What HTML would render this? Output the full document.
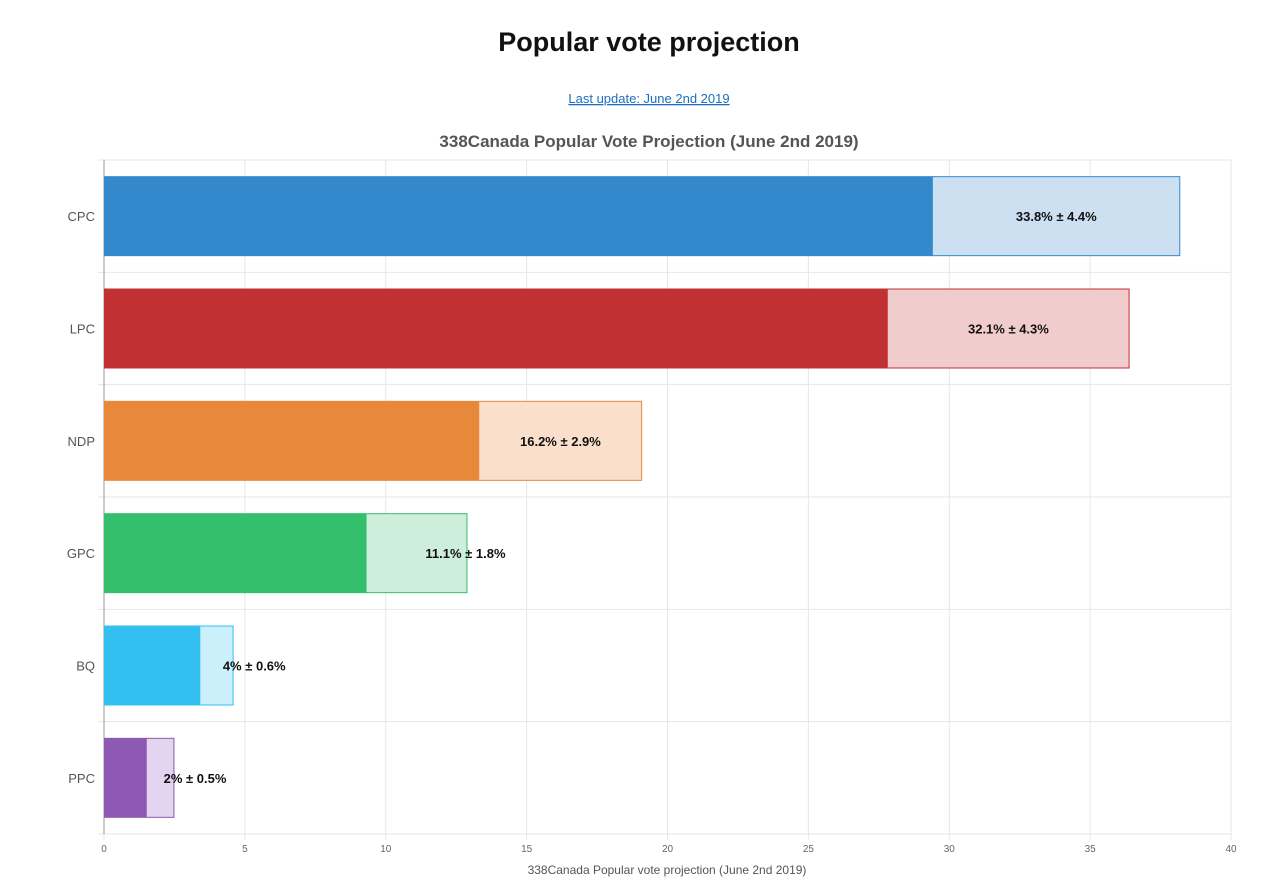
<!DOCTYPE html>
<html><head><meta charset="utf-8"><style>
body{margin:0;background:#fff;width:1265px;height:886px;overflow:hidden;font-family:"Liberation Sans",sans-serif}
</style></head><body>
<svg width="1265" height="886" xmlns="http://www.w3.org/2000/svg">
<text x="649" y="51" text-anchor="middle" font-size="27" font-weight="bold" fill="#111">Popular vote projection</text>
<text x="649" y="103" text-anchor="middle" font-size="13" fill="#1a6fc0" text-decoration="underline">Last update: June 2nd 2019</text>
<text x="649" y="147" text-anchor="middle" font-size="17" font-weight="bold" fill="#555">338Canada Popular Vote Projection (June 2nd 2019)</text>
<text x="667" y="874" text-anchor="middle" font-size="12" fill="#555">338Canada Popular vote projection (June 2nd 2019)</text>
<g id="plot"></g>
</svg>
<script>
const parties=["CPC","LPC","NDP","GPC","BQ","PPC"];
const values=[33.8,32.1,16.2,11.1,4,2];
const errors=[4.4,4.3,2.9,1.8,0.6,0.5];
const labels=["33.8% ± 4.4%","32.1% ± 4.3%","16.2% ± 2.9%","11.1% ± 1.8%","4% ± 0.6%","2% ± 0.5%"];
const ticks=[0,5,10,15,20,25,30,35,40];
const solidColors=["#3389cc","#c13032","#e8883a","#33bf6c","#33bff0","#8e59b4"];
const lightColors=["#cce0f2","#f0cccd","#fae0cc","#cdeedb","#cbeffb","#e3d5ef"];
const L=104,R=1231,T=160,B=834;
const xs=v=>L+(v-0)/(40-0)*(R-L);
const band=(B-T)/parties.length;
const g=document.getElementById('plot');
const NS="http://www.w3.org/2000/svg";
function mk(t,a){const e=document.createElementNS(NS,t);for(const k in a)e.setAttribute(k,a[k]);g.appendChild(e);return e;}
ticks.forEach(t=>{
 const l=mk('line',{x1:xs(t),x2:xs(t),y1:T,y2:B+6,stroke:'#e6e6e6'});
 
 
 const tx=mk('text',{x:xs(t),y:B+18,'text-anchor':'middle','font-size':10,fill:'#666'});
 tx.textContent=t;
 
 
});
for(let i=0;i<=parties.length;i++){
 const y=T+i*band;
 const l=mk('line',{x1:L-6,x2:R,y1:y,y2:y,stroke:'#e6e6e6'});
 
 
}
const ax=mk('line',{x1:L,x2:L,y1:T,y2:B,stroke:'#999'});


parties.forEach((p,i)=>{
 const yc=T+band*(i+0.5),h=80,y=yc-h/2;
 const lo=values[i]-errors[i],hi=values[i]+errors[i];
 const s=mk('rect',{x:xs(0),y:y,width:xs(lo)-xs(0),height:h,fill:solidColors[i]});
 
 
 const r=mk('rect',{x:xs(lo),y:y+0.5,width:xs(hi)-xs(lo)-0.5,height:h-1,fill:lightColors[i],stroke:solidColors[i],'stroke-width':1});
 
 
 const yl=mk('text',{x:L-9,y:yc+5,'text-anchor':'end','font-size':13,fill:'#555'});
 yl.textContent=p;
 
 
 const tw=labels[i].length*6.8;
 const segW=xs(hi)-xs(lo);
 let cx=(xs(lo)+xs(hi))/2;
 if(tw>segW) cx=xs(hi)-10+tw/2;
 else if(tw+40>segW) cx=xs(hi)-2;
 const vl=mk('text',{x:cx,y:yc+5,'text-anchor':'middle','font-size':13,'font-weight':'bold',fill:'#111'});
 vl.textContent=labels[i];
 
 
});
</script>
</body></html>
